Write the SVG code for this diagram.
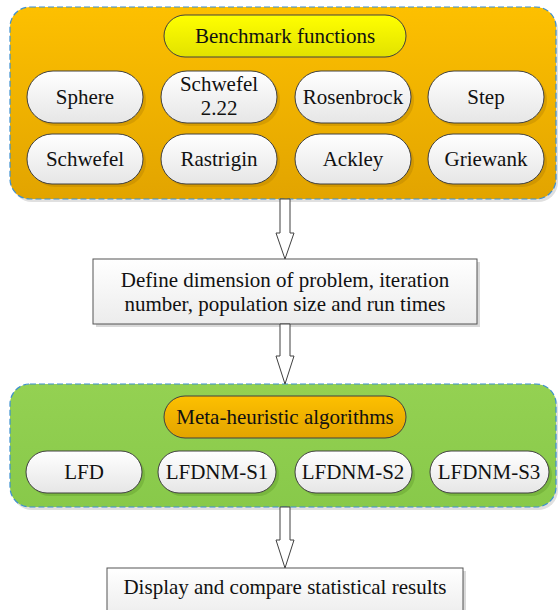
<svg xmlns="http://www.w3.org/2000/svg" width="558" height="610" viewBox="0 0 558 610">
<defs>
<linearGradient id="gOrange" x1="0" y1="0" x2="0" y2="1"><stop offset="0" stop-color="#fdc000"/><stop offset="1" stop-color="#e2a400"/></linearGradient>
<linearGradient id="gGreen" x1="0" y1="0" x2="0" y2="1"><stop offset="0" stop-color="#94d152"/><stop offset="1" stop-color="#88c94a"/></linearGradient>
<linearGradient id="gYellow" x1="0" y1="0" x2="0" y2="1"><stop offset="0" stop-color="#ffff00"/><stop offset="1" stop-color="#e2e200"/></linearGradient>
<linearGradient id="gPill" x1="0" y1="0" x2="0" y2="1"><stop offset="0" stop-color="#ffffff"/><stop offset="1" stop-color="#e6e6e6"/></linearGradient>
<linearGradient id="gBox" x1="0" y1="0" x2="0" y2="1"><stop offset="0" stop-color="#ffffff"/><stop offset="1" stop-color="#ececec"/></linearGradient>
</defs>
<style>
text{font-family:'Liberation Serif','Times New Roman','DejaVu Serif',serif;font-size:21px;fill:#111;text-anchor:middle}
.cont{stroke:#3d8fd1;stroke-width:1.2;stroke-dasharray:6,3}
.cshadow{fill:#000;opacity:0.12}
.pill{fill:url(#gPill);stroke:#404040;stroke-width:1}
.pshadowO{fill:#b07a00;opacity:0.35}
.pshadowG{fill:#5f9a2a;opacity:0.4}
.box{fill:url(#gBox);stroke:#555;stroke-width:1}
.bshadow{fill:#000;opacity:0.15}
.arrow{fill:#fff;stroke:#404040;stroke-width:1}
</style>

<g id="benchmark-container">
<rect class="cshadow" x="12" y="10" width="546" height="192" rx="20"/>
<rect class="cont" x="10" y="7" width="546" height="192" rx="20" fill="url(#gOrange)"/>
</g>
<g id="benchmark-title">
<rect x="164" y="15" width="242" height="42" rx="21" fill="url(#gYellow)" stroke="#404040"/>
<text x="285" y="43">Benchmark functions</text>
</g>
<g id="sphere"><rect class="pshadowO" x="30" y="74" width="116" height="52" rx="26"/><rect class="pill" x="27" y="71" width="116" height="52" rx="26"/><text x="85" y="104">Sphere</text></g>
<g id="schwefel222"><rect class="pshadowO" x="164" y="74" width="116" height="52" rx="26"/><rect class="pill" x="161" y="71" width="116" height="52" rx="26"/><text x="219" y="91">Schwefel</text><text x="219" y="115">2.22</text></g>
<g id="rosenbrock"><rect class="pshadowO" x="298" y="74" width="116" height="52" rx="26"/><rect class="pill" x="295" y="71" width="116" height="52" rx="26"/><text x="353" y="104">Rosenbrock</text></g>
<g id="step"><rect class="pshadowO" x="431" y="74" width="116" height="52" rx="26"/><rect class="pill" x="428" y="71" width="116" height="52" rx="26"/><text x="486" y="104">Step</text></g>
<g id="schwefel"><rect class="pshadowO" x="30" y="137" width="116" height="50" rx="25"/><rect class="pill" x="27" y="134" width="116" height="50" rx="25"/><text x="85" y="166">Schwefel</text></g>
<g id="rastrigin"><rect class="pshadowO" x="164" y="137" width="116" height="50" rx="25"/><rect class="pill" x="161" y="134" width="116" height="50" rx="25"/><text x="219" y="166">Rastrigin</text></g>
<g id="ackley"><rect class="pshadowO" x="298" y="137" width="116" height="50" rx="25"/><rect class="pill" x="295" y="134" width="116" height="50" rx="25"/><text x="353" y="166">Ackley</text></g>
<g id="griewank"><rect class="pshadowO" x="431" y="137" width="116" height="50" rx="25"/><rect class="pill" x="428" y="134" width="116" height="50" rx="25"/><text x="486" y="166">Griewank</text></g>

<g id="define-box">
<rect class="bshadow" x="96" y="262" width="384" height="65"/>
<rect class="box" x="93" y="259" width="384" height="65"/>
<text x="285" y="287">Define dimension of problem, iteration</text>
<text x="285" y="311">number, population size and run times</text>
</g>

<g id="meta-container">
<rect class="cshadow" x="12" y="387" width="546" height="123" rx="20"/>
<rect class="cont" x="10" y="384" width="546" height="123" rx="20" fill="url(#gGreen)"/>
</g>
<g id="meta-title">
<rect x="164" y="396" width="242" height="42" rx="21" fill="url(#gOrange)" stroke="#404040"/>
<text x="285" y="424">Meta-heuristic algorithms</text>
</g>
<g id="lfd"><rect class="pshadowG" x="29" y="454" width="116" height="42" rx="21"/><rect class="pill" x="26" y="451" width="116" height="42" rx="21"/><text x="84" y="479">LFD</text></g>
<g id="lfdnm-s1"><rect class="pshadowG" x="161" y="454" width="118" height="42" rx="21"/><rect class="pill" x="158" y="451" width="118" height="42" rx="21"/><text x="217" y="479">LFDNM-S1</text></g>
<g id="lfdnm-s2"><rect class="pshadowG" x="298" y="454" width="117" height="42" rx="21"/><rect class="pill" x="295" y="451" width="117" height="42" rx="21"/><text x="353" y="479">LFDNM-S2</text></g>
<g id="lfdnm-s3"><rect class="pshadowG" x="433" y="454" width="119" height="42" rx="21"/><rect class="pill" x="430" y="451" width="119" height="42" rx="21"/><text x="489" y="479">LFDNM-S3</text></g>

<g id="display-box">
<rect class="bshadow" x="110" y="571" width="356" height="50"/>
<rect class="box" x="107" y="568" width="356" height="50"/>
<text x="285" y="594">Display and compare statistical results</text>
</g>

<g id="connectors">
<path class="arrow" d="M280,199 L290,199 L290,233 L294,233 L285,259 L276,233 L280,233 Z"/>
<path class="arrow" d="M280,324 L290,324 L290,356 L294,356 L285,384 L276,356 L280,356 Z"/>
<path class="arrow" d="M280,507 L290,507 L290,540 L294,540 L285,568 L276,540 L280,540 Z"/>
</g>
</svg>
